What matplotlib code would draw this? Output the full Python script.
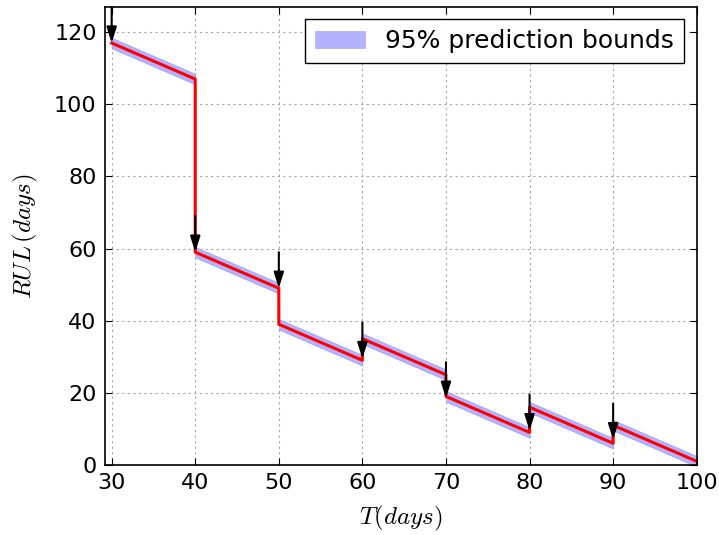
import numpy as np
import matplotlib.pyplot as plt

plt.rcParams['mathtext.fontset'] = 'cm'

# prediction segments: start day, RUL at start, RUL at end of the 10-day window
seg_t0 = [30, 40, 50, 60, 70, 80, 90]
seg_start = [117, 59, 39, 35, 19, 16, 11]
seg_end = [107, 49, 29, 25, 9, 6, 1]
seg_len = 10
bound = 1.5

# observation arrows (tip values)
arrow_t = [30, 40, 50, 60, 70, 80, 90]
arrow_y = [117, 59, 49, 29.5, 18.5, 9.5, 7]
arrow_len = 10

fig = plt.figure(figsize=(7.19, 5.35), dpi=100)
ax = fig.add_axes([0.146, 0.131, 0.823, 0.856])

# continuous red line with steps
xs, ys = [], []
for t0, s, e in zip(seg_t0, seg_start, seg_end):
    xs += [t0, t0 + seg_len]
    ys += [s, e]
for t0, s, e in zip(seg_t0, seg_start, seg_end):
    xx = np.array([t0, t0 + seg_len])
    yy = np.array([s, e])
    ax.fill_between(xx, yy - bound, yy + bound, facecolor=(0, 0, 1, 0.3),
                    edgecolor=(0, 0, 0.6, 0.2), linewidth=0.5,
                    label='95% prediction bounds' if t0 == seg_t0[0] else None)
ax.plot(xs, ys, color='red', lw=2.2)

for t, y in zip(arrow_t, arrow_y):
    ax.annotate('', xy=(t, y), xytext=(t, y + arrow_len),
                annotation_clip=False,
                arrowprops=dict(arrowstyle='-|>,head_length=0.95,head_width=0.3',
                                color='k', lw=1.5, mutation_scale=10,
                                shrinkA=0, shrinkB=0))

ax.set_xlim(29.2, 100)
ax.set_ylim(0, 127)
ax.set_xticks(np.arange(30, 101, 10))
ax.set_yticks(np.arange(0, 121, 20))
ax.grid(True, linestyle=(0, (2, 3)), color='0.65', lw=0.8)
ax.tick_params(direction='in', top=True, right=True, labelsize=16, length=5, pad=6)
ax.set_xlabel(r'$T(days)$', fontsize=18, labelpad=8)
ax.set_ylabel(r'$RUL\,(days)$', fontsize=18, labelpad=10)
for sp in ax.spines.values():
    sp.set_linewidth(1.2)

leg = ax.legend(loc='upper right', fontsize=18, fancybox=False,
                framealpha=1, edgecolor='k', borderaxespad=0.5)
leg.get_frame().set_linewidth(1.0)

fig.savefig('out.png', dpi=100)
